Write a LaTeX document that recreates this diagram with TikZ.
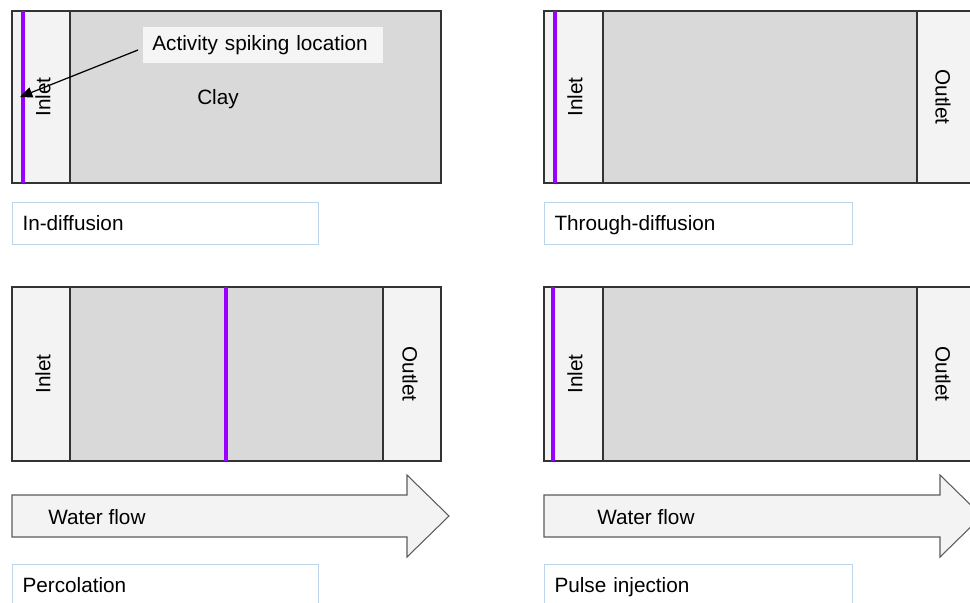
\documentclass[tikz,border=0pt]{standalone}
\usepackage{fontspec}
\setmainfont{Liberation Sans}
\usetikzlibrary{positioning,calc,arrows.meta}
\definecolor{claygray}{HTML}{D9D9D9}
\definecolor{cellgray}{HTML}{F3F3F3}
\definecolor{spike}{HTML}{9900FF}
\definecolor{capline}{HTML}{BDD5EA}
\definecolor{edge}{HTML}{333333}

\tikzset{
  cellbox/.style={fill=cellgray, draw=edge, line width=0.6pt},
  claybox/.style={fill=claygray, draw=edge, line width=0.6pt},
  spikeline/.style={draw=spike, line width=2.3pt},
  flowarrow/.style={fill=cellgray, draw=edge!80, line width=0.6pt},
  caption/.style={draw=capline, line width=0.6pt, anchor=north west,
    minimum height=0.84cm, text width=5.72cm, inner xsep=0.2cm, align=left,
    text height=1.9ex, text depth=0.3ex},
  note/.style={fill=cellgray!85, anchor=west, minimum height=0.72cm,
    text width=4.44cm, inner xsep=0.18cm, align=left},
  pointer/.style={-{Triangle[length=7pt,width=6pt]}, line width=0.7pt}
}

\begin{document}
\begin{tikzpicture}[x=0.02cm, y=-0.02cm, font=\fontsize{11.8}{14}\selectfont]
  \clip (0,0) rectangle (970,602);

  % in-diffusion
  \draw[cellbox] (12,11) rectangle (70,183);
  \draw[claybox] (70,11) rectangle (441,183);
  \draw[spikeline] (23,11) -- (23,183);
  \node[rotate=90] (inletA) at (43,97) {Inlet};
  \node (clayA) at (218,99) {Clay};
  \node[note] (spotnote) at (143,45) {Activity spiking location};
  \coordinate (spotA) at (20,97);
  \draw[pointer] ([xshift=-0.1cm,yshift=-0.1cm]spotnote.west) -- (spotA);
  \node[caption] (capA) at (12,202) {In-diffusion};

  % through-diffusion
  \draw[cellbox] (544,11) rectangle (603,183);
  \draw[claybox] (603,11) rectangle (917,183);
  \draw[cellbox] (917,11) rectangle (975,183);
  \draw[spikeline] (555,11) -- (555,183);
  \node[rotate=90] (inletB) at (575,97) {Inlet};
  \node[rotate=-90] (outletB) at (943,97) {Outlet};
  \node[caption, text width=5.76cm] (capB) at (544,202) {Through-diffusion};

  % percolation
  \draw[cellbox] (12,287) rectangle (70,461);
  \draw[claybox] (70,287) rectangle (383,461);
  \draw[cellbox] (383,287) rectangle (441,461);
  \draw[spikeline] (226,287) -- (226,461);
  \node[rotate=90] (inletC) at (43,374) {Inlet};
  \node[rotate=-90] (outletC) at (410,374) {Outlet};
  \draw[flowarrow] (12,495) -- (407,495) -- (407,475) -- (449,516)
    -- (407,557) -- (407,537) -- (12,537) -- cycle;
  \node[anchor=west, inner sep=0pt] (flowC) at (48,517) {Water flow};
  \node[caption] (capC) at (12,564) {Percolation};

  % pulse injection
  \draw[cellbox] (544,287) rectangle (603,461);
  \draw[claybox] (603,287) rectangle (917,461);
  \draw[cellbox] (917,287) rectangle (975,461);
  \draw[spikeline] (553,287) -- (553,461);
  \node[rotate=90] (inletD) at (575,374) {Inlet};
  \node[rotate=-90] (outletD) at (943,374) {Outlet};
  \draw[flowarrow] (544,495) -- (940,495) -- (940,475) -- (982,516)
    -- (940,557) -- (940,537) -- (544,537) -- cycle;
  \node[anchor=west, inner sep=0pt] (flowD) at (597,517) {Water flow};
  \node[caption, text width=5.76cm] (capD) at (544,564) {Pulse injection};
\end{tikzpicture}
\end{document}
